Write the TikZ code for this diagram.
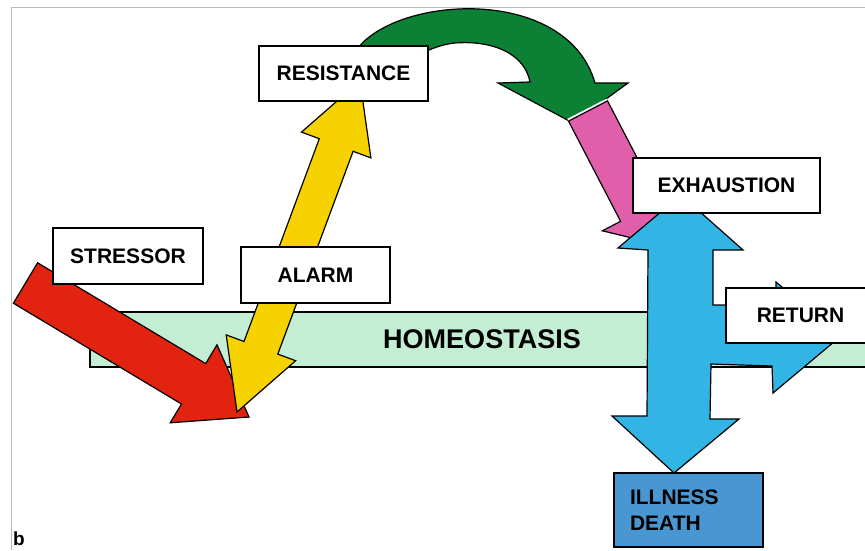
\documentclass[tikz,border=0pt]{standalone}
\usepackage{fontspec}
\setmainfont{Liberation Sans}
\definecolor{bandc}{RGB}{195,238,212}
\definecolor{redc}{RGB}{225,35,15}
\definecolor{yelc}{RGB}{245,210,0}
\definecolor{grnc}{RGB}{12,128,52}
\definecolor{pnkc}{RGB}{225,95,170}
\definecolor{bluc}{RGB}{50,180,228}
\definecolor{illc}{RGB}{72,150,210}
\begin{document}
\begin{tikzpicture}[x=1pt,y=-1pt,
  lbl/.style={draw=black, fill=white, line width=1.3pt, inner sep=0pt,
    font=\fontsize{21}{25}\selectfont\bfseries},
  blockarrow/.style={draw=black, line width=1.2pt, line join=miter}]
\useasboundingbox (0,0) rectangle (865,550);
\fill[white] (0,0) rectangle (865,550);
% frame
\draw[gray!55, line width=0.8pt] (11,550) -- (11,7) -- (865,7);
% homeostasis band
\node[draw=black, fill=bandc, line width=1.2pt, minimum width=784pt, minimum height=55pt,
  inner sep=0pt, font=\fontsize{27}{32}\selectfont\bfseries] (homeo) at (482,339.5) {HOMEOSTASIS};
% stressor arrow
\draw[blockarrow, fill=redc] (37.6,262.8) -- (205.7,363.6) -- (217,344.8) -- (249,417)
  -- (170.2,422.8) -- (181.5,404) -- (13.4,303.2) -- cycle;
% alarm / resistance double arrow
\draw[blockarrow, fill=yelc] (237,412) -- (226.2,334.9) -- (244.0,341.5) -- (319.3,138.7)
  -- (301.5,132.1) -- (360,81) -- (370.9,157.9) -- (353.1,151.3) -- (277.8,354.1)
  -- (295.6,360.7) -- cycle;
% green curved arrow
\draw[blockarrow, fill=grnc] (350,62) .. controls (372,-3) and (565,-22) .. (595,83)
  -- (628,83) -- (573,123) -- (498,83) -- (530,82)
  .. controls (525,55) and (495,40) .. (455,43)
  .. controls (435,45) and (415,55) .. (395,72) -- cycle;
% pink arrow
\draw[white, line width=5pt] (568.5,121.1) -- (607.5,100.9);
\draw[blockarrow, fill=pnkc] (568.5,121.1) -- (620.6,221.3) -- (602.4,230.8) -- (657.2,244.1)
  -- (677.8,191.6) -- (659.6,201.1) -- (607.5,100.9) -- cycle;
% blue arrows
\draw[blockarrow, fill=bluc] (681,195) -- (743,250) -- (713,250) -- (713,305) -- (776,305)
  -- (776,282) -- (841,336) -- (773,393) -- (772,366) -- (711,364) -- (710,419)
  -- (739,419) -- (674,473) -- (612,416) -- (647,416) -- (648,250) -- (618,248) -- cycle;
% boxes
\node[lbl, minimum width=169pt, minimum height=55pt] (res) at (343.5,73.5) {RESISTANCE};
\node[lbl, minimum width=150pt, minimum height=56pt] (str) at (128,256) {STRESSOR};
\node[lbl, minimum width=149pt, minimum height=56pt] (alm) at (315.5,275) {ALARM};
\node[lbl, minimum width=187pt, minimum height=55pt] (exh) at (726.5,185.5) {EXHAUSTION};
\node[lbl, minimum width=149pt, minimum height=55pt] (ret) at (800.5,315.5) {RETURN};
\node[lbl, fill=illc, minimum height=74pt, text width=117pt, inner xsep=16pt, align=left,
  font=\fontsize{21}{26}\selectfont\bfseries] (ill) at (688.5,510) {ILLNESS\\DEATH};
\node[anchor=base west, inner sep=0pt, font=\fontsize{19}{23}\selectfont\bfseries] (lblb) at (13,545) {b};
\end{tikzpicture}
\end{document}
